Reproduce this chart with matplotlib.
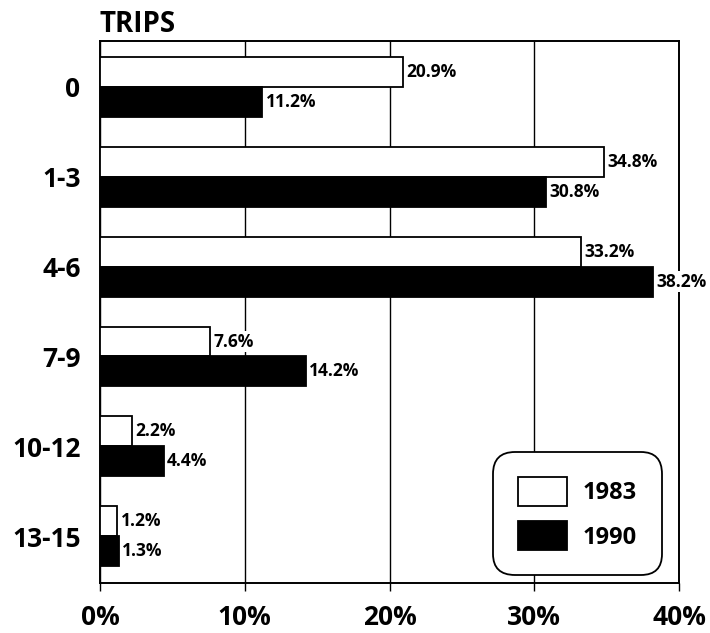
import matplotlib
matplotlib.use("Agg")
import matplotlib.pyplot as plt
import numpy as np

categories = ["0", "1-3", "4-6", "7-9", "10-12", "13-15"]
series_1983 = [20.9, 34.8, 33.2, 7.6, 2.2, 1.2]
series_1990 = [11.2, 30.8, 38.2, 14.2, 4.4, 1.3]
x_ticks = [0, 10, 20, 30, 40]
x_ticklabels = ["0%", "10%", "20%", "30%", "40%"]

plt.rcParams['font.family'] = ['Open Sans', 'DejaVu Sans']

fig = plt.figure(figsize=(7.1, 6.33), dpi=100)
ax = fig.add_axes([100/710, 50/633, 579/710, 542/633])

y = np.arange(len(categories))
h = 0.333
b1 = ax.barh(y - h/2, series_1983, height=h, color='white', edgecolor='black', linewidth=1.3, label='1983', zorder=3)
b2 = ax.barh(y + h/2, series_1990, height=h, color='black', edgecolor='black', linewidth=1.3, label='1990', zorder=3)

for bars, vals in ((b1, series_1983), (b2, series_1990)):
    for rect, v in zip(bars, vals):
        ax.annotate(f"{v}%", (v, rect.get_y() + rect.get_height()/2),
                    xytext=(2.5, 0), textcoords='offset points',
                    va='center', ha='left', fontsize=12.5, fontweight='bold', zorder=5,
                    bbox=dict(boxstyle='square,pad=0.1', fc='white', ec='none'),
                    annotation_clip=False)

ax.set_xlim(0, 40)
ax.set_ylim(5.52, -0.51)
ax.set_yticks(y)
ax.set_yticklabels(categories, fontsize=19, fontweight='bold')
ax.set_xticks(x_ticks)
ax.set_xticklabels(x_ticklabels, fontsize=19, fontweight='bold')
ax.tick_params(axis='y', length=0, pad=14)
ax.tick_params(axis='x', length=6, width=1, direction='out', pad=9)
ax.xaxis.grid(True, color='black', linewidth=1, zorder=1)
for s in ax.spines.values():
    s.set_linewidth(1.4)

fig.text(100/710, 1 - 25/633, "TRIPS", fontsize=20, fontweight='bold', ha='left', va='center')

leg = ax.legend(loc='lower right', bbox_to_anchor=(0.9706, 0.0148), borderaxespad=0,
                prop={'weight': 'bold', 'size': 17},
                handlelength=2.05, handleheight=1.5, labelspacing=0.65,
                borderpad=1.05, handletextpad=0.7, frameon=True, fancybox=True,
                edgecolor='black', framealpha=1)
frame = leg.get_frame()
frame.set_linewidth(1.3)
frame.set_boxstyle("round,pad=0,rounding_size=0.9")

fig.savefig("out.png", dpi=100)
